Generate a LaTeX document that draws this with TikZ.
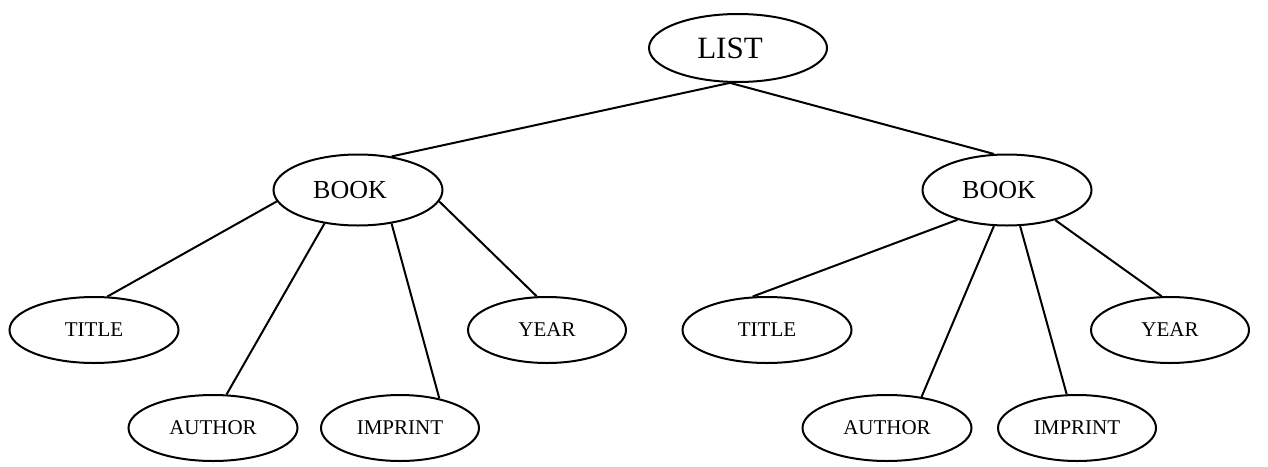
\documentclass[tikz,border=0pt]{standalone}
\usepackage{fontspec}
\setmainfont{Liberation Serif}
\usetikzlibrary{shapes.geometric}
\tikzset{
  entity/.style={draw,ellipse,line width=1pt,inner sep=0pt},
  rootnode/.style={entity,minimum width=89pt,minimum height=34pt,font=\fontsize{15.5}{18}\selectfont},
  booknode/.style={entity,minimum width=84.5pt,minimum height=35.5pt,font=\fontsize{13}{15}\selectfont},
  fieldnode/.style={entity,minimum width=84.5pt,minimum height=33pt,font=\fontsize{10.5}{12}\selectfont},
  shortfield/.style={fieldnode,minimum width=79pt},
  link/.style={line width=1pt}
}
\newcommand*{\lft}[1]{#1\hspace*{8pt}}

\begin{document}
\begin{tikzpicture}[x=0.5pt,y=-0.5pt]
\useasboundingbox (0,0) rectangle (1268,466);
% Root and the two books
\node[rootnode] (list) at (738,48) {\lft{LIST}};
\node[booknode] (booka) at (358,190) {\lft{BOOK}};
\node[booknode] (bookb) at (1007,190) {\lft{BOOK}};
\draw[link] (list.257) -- (booka.45);
\draw[link] (list.257) -- (bookb.110);
% Fields of the first book
\node[fieldnode] (titlea) at (94,330) {TITLE};
\node[shortfield] (yeara) at (547,330) {YEAR};
\node[fieldnode] (authora) at (213,428) {AUTHOR};
\node[shortfield] (imprinta) at (400,428) {IMPRINT};
\draw[link] (booka.188) -- (titlea.68);
\draw[link] (booka.225) -- (authora.68);
\draw[link] (booka.315) -- (imprinta.37);
\draw[link] (booka.352) -- (yeara.107);
% Fields of the second book
\node[fieldnode] (titleb) at (767,330) {TITLE};
\node[shortfield] (yearb) at (1170,330) {YEAR};
\node[fieldnode] (authorb) at (887,428) {AUTHOR};
\node[shortfield] (imprintb) at (1077,428) {IMPRINT};
\draw[link] (bookb.211) -- (titleb.113);
\draw[link] (bookb.250) -- (authorb.42);
\draw[link] (bookb.290) -- (imprintb.107);
\draw[link] (bookb.328) -- (yearb.104);
\end{tikzpicture}
\end{document}
